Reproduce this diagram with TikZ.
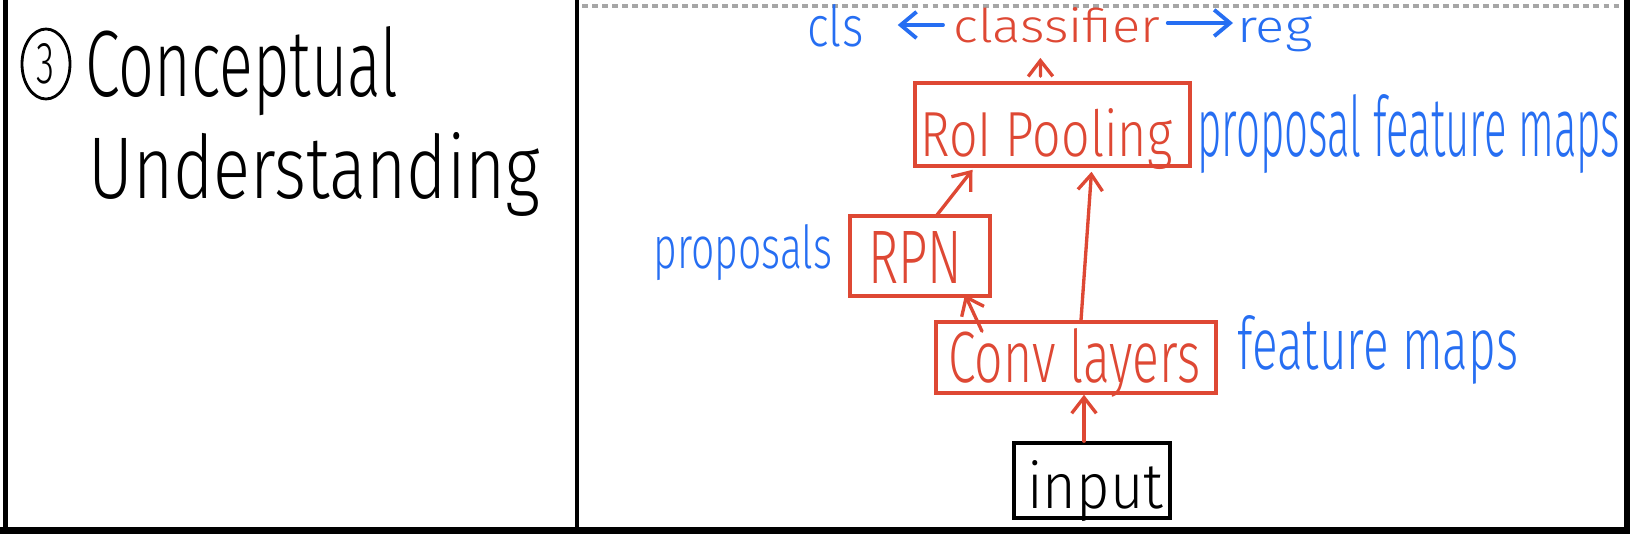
\documentclass[tikz,border=0pt]{standalone}
\usepackage{fontspec}
\setmainfont{Fira Sans Light}
\usetikzlibrary{arrows.meta,calc,shapes.geometric}
\newlength\pxu \setlength\pxu{0.02cm}
\newcommand\fitt[3]{\resizebox{#1\pxu}{#2\pxu}{#3}}
\definecolor{hred}{RGB}{222,72,52}
\definecolor{hblue}{RGB}{38,110,242}
\begin{document}
\begin{tikzpicture}[x=0.02cm,y=-0.02cm,
  txt/.style={inner sep=0pt, anchor=base west},
  redtxt/.style={txt, text=hred},
  bluetxt/.style={txt, text=hblue},
  blacktxt/.style={txt, text=black},
  rbox/.style={draw=hred, line width=2pt, inner sep=0pt},
  kbox/.style={draw=black, line width=2pt, inner sep=0pt},
  rarr/.style={draw=hred, line width=1.9pt, line cap=round, -{Straight Barb[length=9pt,width=14pt,line width=1.9pt]}},
  barr/.style={draw=hblue, line width=2.2pt, line cap=round, -{Straight Barb[length=9pt,width=15pt,line width=2.2pt]}},
  frame/.style={draw=black, line width=#1},
]
\useasboundingbox (0,0) rectangle (1630,534);
% frame
\draw[frame=3pt] (5.5,0) -- (5.5,534);
\draw[frame=4pt] (0,530.5) -- (1630,530.5);
\draw[frame=2.8pt] (577,0) -- (577,530);
\draw[frame=3.4pt] (1626.5,0) -- (1626.5,534);
\draw[gray!70, line width=2.4pt, dash pattern=on 3.4pt off 2.3pt] (582,6) -- (1620,6);
% left panel
\node[ellipse, draw=black, line width=1.6pt, minimum width=48*\pxu, minimum height=70*\pxu, inner sep=0pt] (three) at (46,64) {\fitt{18}{40}{3}};
\node[blacktxt] (conc) at (85,96) {\fitt{313}{70}{Conceptual}};
\node[blacktxt] (und) at (88,198) {\fitt{452}{66}{Understanding}};
% boxes
\node[rbox, minimum width=275*\pxu, minimum height=83*\pxu] (roi) at (1052.5,124.5) {};
\node[rbox, minimum width=140*\pxu, minimum height=80*\pxu] (rpn) at (920,256) {};
\node[rbox, minimum width=280*\pxu, minimum height=71*\pxu] (conv) at (1076,357.5) {};
\node[kbox, minimum width=156*\pxu, minimum height=75*\pxu] (inp) at (1092,480.5) {};
% texts
\node[bluetxt] (cls) at (807,47) {\fitt{56}{42}{cls}};
\node[redtxt] (clsf) at (953,42) {\fitt{207}{35}{classifier}};
\node[bluetxt] (reg) at (1237,42) {\fitt{75}{26}{reg}};
\node[redtxt] (roit) at (920,156) {\fitt{252}{48}{RoI Pooling}};
\node[bluetxt] (pfm) at (1197,156) {\fitt{423}{62}{proposal feature maps}};
\node[redtxt] (rpnt) at (868,283) {\fitt{94}{52}{RPN}};
\node[bluetxt] (props) at (653,268) {\fitt{179}{44}{proposals}};
\node[redtxt] (convt) at (948,382) {\fitt{252}{54}{Conv layers}};
\node[bluetxt] (fm) at (1237,369) {\fitt{281}{54}{feature maps}};
\node[blacktxt] (inpt) at (1027,508) {\fitt{136}{48}{input}};
% arrows
\draw[rarr] ($(inp.north)+(-8,0)$) -- ($(conv.south)+(8,0)$);
\draw[rarr] ($(conv.north)+(-94,11)$) -- ($(rpn.south)+(45,-3)$);
\draw[rarr] ($(conv.north)+(5,0)$) -- ($(roi.south)+(39,4)$);
\draw[rarr] ($(rpn.north)+(16,2)$) -- ($(roi.south)+(-80,2)$);
\draw[rarr] ($(roi.north)+(-12,-5)$) -- ($(clsf.south)+(-16.5,15)$);
\draw[barr] ($(clsf.base west)+(-10,-17)$) -- ($(cls.base east)+(34,-22)$);
\draw[barr] ($(clsf.base east)+(7,-19)$) -- ($(reg.base west)+(-4,-19)$);
\end{tikzpicture}
\end{document}
